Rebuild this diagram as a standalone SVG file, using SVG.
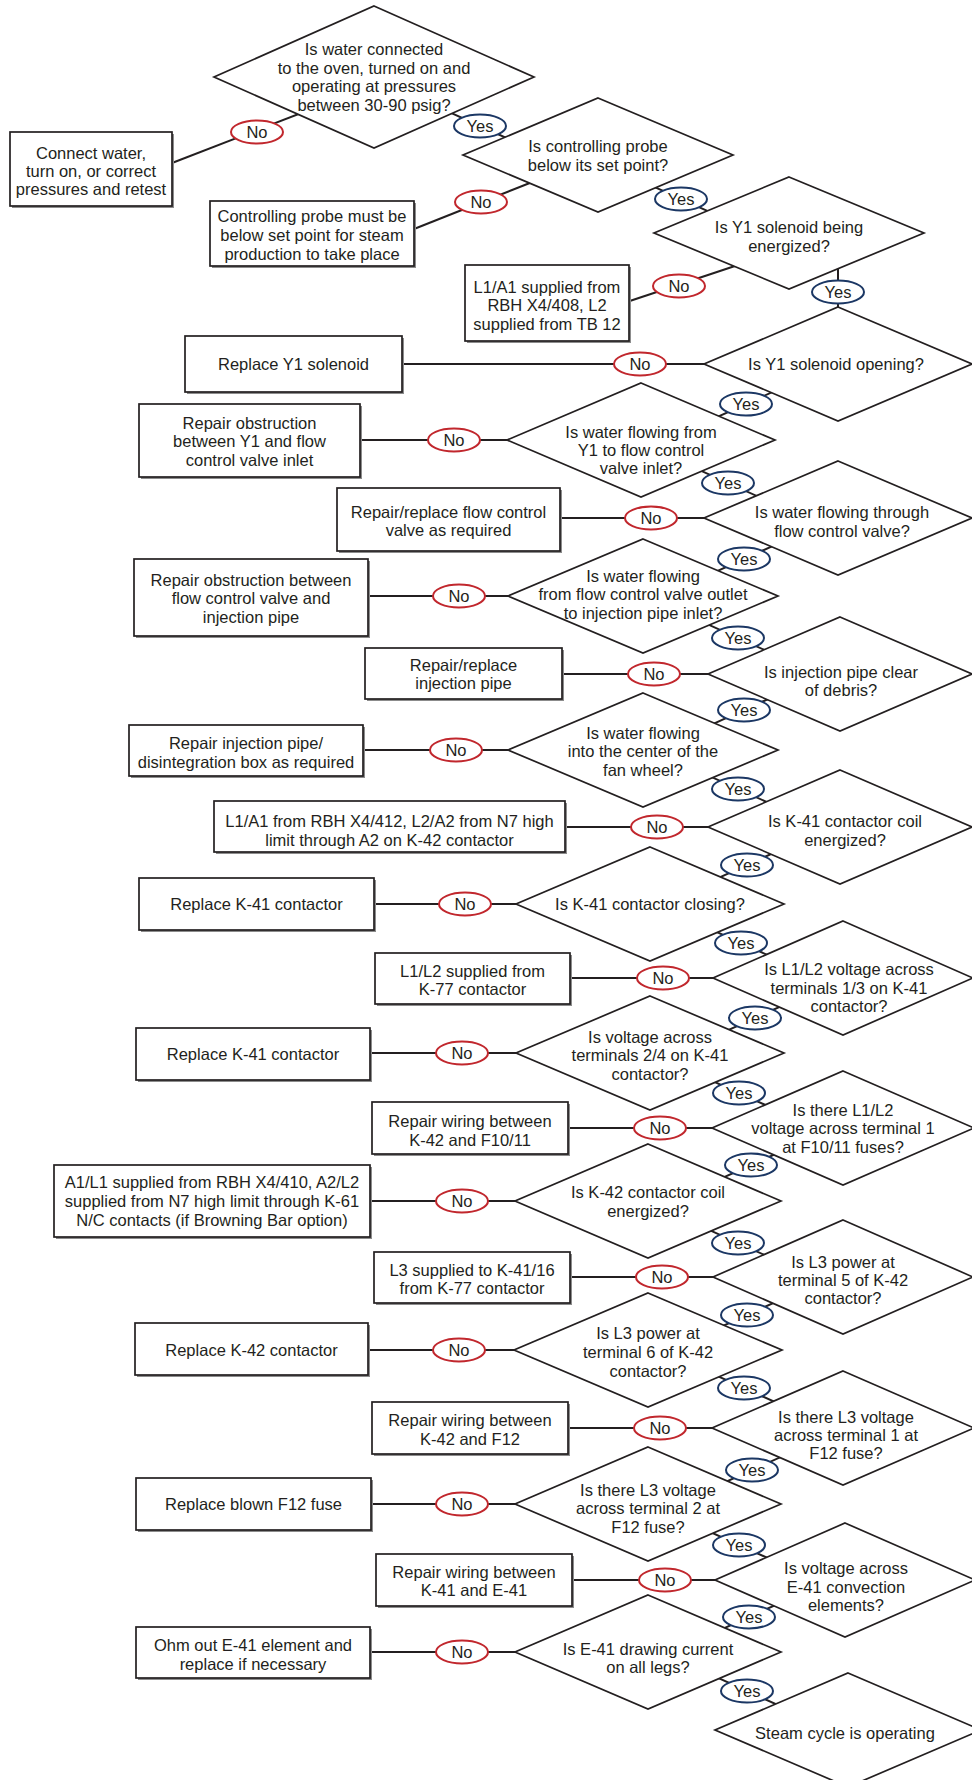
<svg xmlns="http://www.w3.org/2000/svg" width="972" height="1780" viewBox="0 0 972 1780">
<style>
.bg{fill:#ffffff}
.sh{fill:#8c8c8c}
.box{fill:#ffffff;stroke:#231f20;stroke-width:1.7}
.dia{fill:#ffffff;stroke:#231f20;stroke-width:1.7}
.ln{stroke:#231f20;stroke-width:2;fill:none}
.t{font-family:"Liberation Sans",Arial,sans-serif;font-size:16.5px;fill:#231f20;text-anchor:middle}
.no{fill:#ffffff;stroke:#c1272d;stroke-width:2}
.yes{fill:#ffffff;stroke:#1b3764;stroke-width:2}
</style>
<rect class="bg" x="0" y="0" width="972" height="1780"/>

<g id="connectors">
<line class="ln" x1="320" y1="105.7" x2="172" y2="163"/>
<line class="ln" x1="550" y1="175" x2="414" y2="229"/>
<line class="ln" x1="750" y1="261" x2="629" y2="301.3"/>
<line class="ln" x1="402" y1="364" x2="730" y2="364"/>
<line class="ln" x1="360" y1="440" x2="530" y2="440"/>
<line class="ln" x1="560" y1="518" x2="730" y2="518"/>
<line class="ln" x1="368" y1="596" x2="530" y2="596"/>
<line class="ln" x1="562" y1="674" x2="730" y2="674"/>
<line class="ln" x1="363" y1="750" x2="530" y2="750"/>
<line class="ln" x1="565" y1="827" x2="730" y2="827"/>
<line class="ln" x1="374" y1="904" x2="540" y2="904"/>
<line class="ln" x1="570" y1="978" x2="735" y2="978"/>
<line class="ln" x1="370" y1="1053" x2="540" y2="1053"/>
<line class="ln" x1="568" y1="1128" x2="735" y2="1128"/>
<line class="ln" x1="370" y1="1201" x2="540" y2="1201"/>
<line class="ln" x1="570" y1="1277" x2="735" y2="1277"/>
<line class="ln" x1="368" y1="1350" x2="540" y2="1350"/>
<line class="ln" x1="568" y1="1428" x2="735" y2="1428"/>
<line class="ln" x1="371" y1="1504" x2="540" y2="1504"/>
<line class="ln" x1="572" y1="1580" x2="735" y2="1580"/>
<line class="ln" x1="370" y1="1652" x2="540" y2="1652"/>

<line class="ln" x1="430" y1="103.4" x2="530" y2="148.6"/>
<line class="ln" x1="631" y1="176.4" x2="731" y2="221.6"/>
<line class="ln" x1="838" y1="255" x2="838" y2="330"/>
<line class="ln" x1="796" y1="381.4" x2="696" y2="426.6"/>
<line class="ln" x1="678" y1="460.4" x2="778" y2="505.6"/>
<line class="ln" x1="794" y1="536.4" x2="694" y2="581.6"/>
<line class="ln" x1="688" y1="615.4" x2="788" y2="660.6"/>
<line class="ln" x1="794" y1="687.4" x2="694" y2="732.6"/>
<line class="ln" x1="688" y1="766.4" x2="788" y2="811.6"/>
<line class="ln" x1="797" y1="842.4" x2="697" y2="887.6"/>
<line class="ln" x1="691" y1="920.4" x2="791" y2="965.6"/>
<line class="ln" x1="805" y1="995.4" x2="705" y2="1040.6"/>
<line class="ln" x1="689" y1="1070.4" x2="789" y2="1115.6"/>
<line class="ln" x1="801" y1="1142.4" x2="701" y2="1187.6"/>
<line class="ln" x1="688" y1="1220.4" x2="788" y2="1265.6"/>
<line class="ln" x1="797" y1="1292.4" x2="697" y2="1337.6"/>
<line class="ln" x1="694" y1="1365.4" x2="794" y2="1410.6"/>
<line class="ln" x1="802" y1="1447.4" x2="702" y2="1492.6"/>
<line class="ln" x1="689" y1="1522.4" x2="789" y2="1567.6"/>
<line class="ln" x1="799" y1="1594.4" x2="699" y2="1639.6"/>
<line class="ln" x1="697" y1="1668.4" x2="797" y2="1713.6"/>
</g>

<g id="d1"><polygon class="dia" points="374,6 534,77 374,148 214,77"/>
<text class="t" x="374" y="55">Is water connected</text><text class="t" x="374" y="73.5">to the oven, turned on and</text><text class="t" x="374" y="92">operating at pressures</text><text class="t" x="374" y="110.5">between 30-90 psig?</text></g>
<g id="b1"><rect class="sh" x="12" y="134" width="162" height="74"/><rect class="box" x="10" y="132" width="162" height="74"/>
<text class="t" x="91" y="159">Connect water,</text><text class="t" x="91" y="177">turn on, or correct</text><text class="t" x="91" y="195">pressures and retest</text></g>

<g id="d2"><polygon class="dia" points="598,98 733,155 598,212 463,155"/>
<text class="t" x="598" y="152">Is controlling probe</text><text class="t" x="598" y="171">below its set point?</text></g>
<g id="b2"><rect class="sh" x="212" y="203" width="204" height="65"/><rect class="box" x="210" y="201" width="204" height="65"/>
<text class="t" x="312" y="222">Controlling probe must be</text><text class="t" x="312" y="241">below set point for steam</text><text class="t" x="312" y="260">production to take place</text></g>

<g id="d3"><polygon class="dia" points="789,177 924,233 789,289 654,233"/>
<text class="t" x="789" y="233">Is Y1 solenoid being</text><text class="t" x="789" y="252">energized?</text></g>
<g id="b3"><rect class="sh" x="467" y="267" width="164" height="76"/><rect class="box" x="465" y="265" width="164" height="76"/>
<text class="t" x="547" y="293">L1/A1 supplied from</text><text class="t" x="547" y="311">RBH X4/408, L2</text><text class="t" x="547" y="330">supplied from TB 12</text></g>

<g id="d4"><polygon class="dia" points="838,307 972,364 838,421 704,364"/>
<text class="t" x="836" y="370">Is Y1 solenoid opening?</text></g>
<g id="b4"><rect class="sh" x="187" y="338" width="217" height="56"/><rect class="box" x="185" y="336" width="217" height="56"/>
<text class="t" x="293.5" y="370">Replace Y1 solenoid</text></g>

<g id="d5"><polygon class="dia" points="641,383 775,440 641,497 507,440"/>
<text class="t" x="641" y="438">Is water flowing from</text><text class="t" x="641" y="456">Y1 to flow control</text><text class="t" x="641" y="474">valve inlet?</text></g>
<g id="b5"><rect class="sh" x="141" y="406" width="221" height="73"/><rect class="box" x="139" y="404" width="221" height="73"/>
<text class="t" x="249.5" y="429">Repair obstruction</text><text class="t" x="249.5" y="447">between Y1 and flow</text><text class="t" x="249.5" y="466">control valve inlet</text></g>

<g id="d6"><polygon class="dia" points="838,461 972,518 838,575 704,518"/>
<text class="t" x="842" y="518">Is water flowing through</text><text class="t" x="842" y="537">flow control valve?</text></g>
<g id="b6"><rect class="sh" x="339" y="490" width="223" height="63"/><rect class="box" x="337" y="488" width="223" height="63"/>
<text class="t" x="448.5" y="518">Repair/replace flow control</text><text class="t" x="448.5" y="536">valve as required</text></g>

<g id="d7"><polygon class="dia" points="643,539 778,596 643,653 508,596"/>
<text class="t" x="643" y="582">Is water flowing</text><text class="t" x="643" y="600">from flow control valve outlet</text><text class="t" x="643" y="619">to injection pipe inlet?</text></g>
<g id="b7"><rect class="sh" x="136" y="561" width="234" height="77"/><rect class="box" x="134" y="559" width="234" height="77"/>
<text class="t" x="251" y="586">Repair obstruction between</text><text class="t" x="251" y="604">flow control valve and</text><text class="t" x="251" y="623">injection pipe</text></g>

<g id="d8"><polygon class="dia" points="840,617 972,674 840,731 708,674"/>
<text class="t" x="841" y="678">Is injection pipe clear</text><text class="t" x="841" y="696">of debris?</text></g>
<g id="b8"><rect class="sh" x="367" y="650" width="197" height="51"/><rect class="box" x="365" y="648" width="197" height="51"/>
<text class="t" x="463.5" y="671">Repair/replace</text><text class="t" x="463.5" y="689">injection pipe</text></g>

<g id="d9"><polygon class="dia" points="643,693 778,750 643,807 508,750"/>
<text class="t" x="643" y="739">Is water flowing</text><text class="t" x="643" y="757">into the center of the</text><text class="t" x="643" y="776">fan wheel?</text></g>
<g id="b9"><rect class="sh" x="131" y="727" width="234" height="51"/><rect class="box" x="129" y="725" width="234" height="51"/>
<text class="t" x="246" y="749">Repair injection pipe/</text><text class="t" x="246" y="768">disintegration box as required</text></g>

<g id="d10"><polygon class="dia" points="840,770 972,827 840,884 708,827"/>
<text class="t" x="845" y="827">Is K-41 contactor coil</text><text class="t" x="845" y="846">energized?</text></g>
<g id="b10"><rect class="sh" x="216" y="803" width="351" height="51"/><rect class="box" x="214" y="801" width="351" height="51"/>
<text class="t" x="389.5" y="827">L1/A1 from RBH X4/412, L2/A2 from N7 high</text><text class="t" x="389.5" y="846">limit through A2 on K-42 contactor</text></g>

<g id="d11"><polygon class="dia" points="650,847 784,904 650,961 516,904"/>
<text class="t" x="650" y="910">Is K-41 contactor closing?</text></g>
<g id="b11"><rect class="sh" x="141" y="880" width="235" height="52"/><rect class="box" x="139" y="878" width="235" height="52"/>
<text class="t" x="256.5" y="910">Replace K-41 contactor</text></g>

<g id="d12"><polygon class="dia" points="843,921 973,978 843,1035 713,978"/>
<text class="t" x="849" y="975">Is L1/L2 voltage across</text><text class="t" x="849" y="994">terminals 1/3 on K-41</text><text class="t" x="849" y="1012">contactor?</text></g>
<g id="b12"><rect class="sh" x="377" y="955" width="195" height="51"/><rect class="box" x="375" y="953" width="195" height="51"/>
<text class="t" x="472.5" y="977">L1/L2 supplied from</text><text class="t" x="472.5" y="995">K-77 contactor</text></g>

<g id="d13"><polygon class="dia" points="650,996 784,1053 650,1110 516,1053"/>
<text class="t" x="650" y="1043">Is voltage across</text><text class="t" x="650" y="1061">terminals 2/4 on K-41</text><text class="t" x="650" y="1080">contactor?</text></g>
<g id="b13"><rect class="sh" x="138" y="1030" width="234" height="52"/><rect class="box" x="136" y="1028" width="234" height="52"/>
<text class="t" x="253" y="1060">Replace K-41 contactor</text></g>

<g id="d14"><polygon class="dia" points="843,1071 974,1128 843,1185 712,1128"/>
<text class="t" x="843" y="1116">Is there L1/L2</text><text class="t" x="843" y="1134">voltage across terminal 1</text><text class="t" x="843" y="1153">at F10/11 fuses?</text></g>
<g id="b14"><rect class="sh" x="374" y="1104" width="196" height="52"/><rect class="box" x="372" y="1102" width="196" height="52"/>
<text class="t" x="470" y="1127">Repair wiring between</text><text class="t" x="470" y="1146">K-42 and F10/11</text></g>

<g id="d15"><polygon class="dia" points="648,1144 781,1201 648,1258 515,1201"/>
<text class="t" x="648" y="1198">Is K-42 contactor coil</text><text class="t" x="648" y="1217">energized?</text></g>
<g id="b15"><rect class="sh" x="56" y="1167" width="316" height="72"/><rect class="box" x="54" y="1165" width="316" height="72"/>
<text class="t" x="212" y="1188">A1/L1 supplied from RBH X4/410, A2/L2</text><text class="t" x="212" y="1207">supplied from N7 high limit through K-61</text><text class="t" x="212" y="1226">N/C contacts (if Browning Bar option)</text></g>

<g id="d16"><polygon class="dia" points="843,1220 973,1277 843,1334 713,1277"/>
<text class="t" x="843" y="1268">Is L3 power at</text><text class="t" x="843" y="1286">terminal 5 of K-42</text><text class="t" x="843" y="1304">contactor?</text></g>
<g id="b16"><rect class="sh" x="376" y="1254" width="196" height="51"/><rect class="box" x="374" y="1252" width="196" height="51"/>
<text class="t" x="472" y="1276">L3 supplied to K-41/16</text><text class="t" x="472" y="1294">from K-77 contactor</text></g>

<g id="d17"><polygon class="dia" points="648,1293 782,1350 648,1407 514,1350"/>
<text class="t" x="648" y="1339">Is L3 power at</text><text class="t" x="648" y="1358">terminal 6 of K-42</text><text class="t" x="648" y="1377">contactor?</text></g>
<g id="b17"><rect class="sh" x="137" y="1325" width="233" height="52"/><rect class="box" x="135" y="1323" width="233" height="52"/>
<text class="t" x="251.5" y="1356">Replace K-42 contactor</text></g>

<g id="d18"><polygon class="dia" points="843,1371 974,1428 843,1485 712,1428"/>
<text class="t" x="846" y="1423">Is there L3 voltage</text><text class="t" x="846" y="1441">across terminal 1 at</text><text class="t" x="846" y="1459">F12 fuse?</text></g>
<g id="b18"><rect class="sh" x="374" y="1404" width="196" height="52"/><rect class="box" x="372" y="1402" width="196" height="52"/>
<text class="t" x="470" y="1426">Repair wiring between</text><text class="t" x="470" y="1445">K-42 and F12</text></g>

<g id="d19"><polygon class="dia" points="648,1447 781,1504 648,1561 515,1504"/>
<text class="t" x="648" y="1496">Is there L3 voltage</text><text class="t" x="648" y="1514">across terminal 2 at</text><text class="t" x="648" y="1533">F12 fuse?</text></g>
<g id="b19"><rect class="sh" x="138" y="1480" width="235" height="52"/><rect class="box" x="136" y="1478" width="235" height="52"/>
<text class="t" x="253.5" y="1510">Replace blown F12 fuse</text></g>

<g id="d20"><polygon class="dia" points="845,1523 975,1580 845,1637 715,1580"/>
<text class="t" x="846" y="1574">Is voltage across</text><text class="t" x="846" y="1593">E-41 convection</text><text class="t" x="846" y="1611">elements?</text></g>
<g id="b20"><rect class="sh" x="378" y="1556" width="196" height="52"/><rect class="box" x="376" y="1554" width="196" height="52"/>
<text class="t" x="474" y="1578">Repair wiring between</text><text class="t" x="474" y="1596">K-41 and E-41</text></g>

<g id="d21"><polygon class="dia" points="648,1595 781,1652 648,1709 515,1652"/>
<text class="t" x="648" y="1655">Is E-41 drawing current</text><text class="t" x="648" y="1673">on all legs?</text></g>
<g id="b21"><rect class="sh" x="138" y="1629" width="234" height="51"/><rect class="box" x="136" y="1627" width="234" height="51"/>
<text class="t" x="253" y="1651">Ohm out E-41 element and</text><text class="t" x="253" y="1670">replace if necessary</text></g>

<g id="d22"><polygon class="dia" points="848,1673 981,1730 848,1787 715,1730"/>
<text class="t" x="845" y="1739">Steam cycle is operating</text></g>

<g id="connector-labels">
<ellipse class="no" cx="257" cy="132" rx="26" ry="11.5"/><text class="t" x="257" y="138">No</text>
<ellipse class="no" cx="481" cy="202" rx="26" ry="11.5"/><text class="t" x="481" y="208">No</text>
<ellipse class="no" cx="679" cy="286" rx="26" ry="11.5"/><text class="t" x="679" y="292">No</text>
<ellipse class="no" cx="640" cy="364" rx="26" ry="11.5"/><text class="t" x="640" y="370">No</text>
<ellipse class="no" cx="454" cy="440" rx="26" ry="11.5"/><text class="t" x="454" y="446">No</text>
<ellipse class="no" cx="651" cy="518" rx="26" ry="11.5"/><text class="t" x="651" y="524">No</text>
<ellipse class="no" cx="459" cy="596" rx="26" ry="11.5"/><text class="t" x="459" y="602">No</text>
<ellipse class="no" cx="654" cy="674" rx="26" ry="11.5"/><text class="t" x="654" y="680">No</text>
<ellipse class="no" cx="456" cy="750" rx="26" ry="11.5"/><text class="t" x="456" y="756">No</text>
<ellipse class="no" cx="657" cy="827" rx="26" ry="11.5"/><text class="t" x="657" y="833">No</text>
<ellipse class="no" cx="465" cy="904" rx="26" ry="11.5"/><text class="t" x="465" y="910">No</text>
<ellipse class="no" cx="663" cy="978" rx="26" ry="11.5"/><text class="t" x="663" y="984">No</text>
<ellipse class="no" cx="462" cy="1053" rx="26" ry="11.5"/><text class="t" x="462" y="1059">No</text>
<ellipse class="no" cx="660" cy="1128" rx="26" ry="11.5"/><text class="t" x="660" y="1134">No</text>
<ellipse class="no" cx="462" cy="1201" rx="26" ry="11.5"/><text class="t" x="462" y="1207">No</text>
<ellipse class="no" cx="662" cy="1277" rx="26" ry="11.5"/><text class="t" x="662" y="1283">No</text>
<ellipse class="no" cx="459" cy="1350" rx="26" ry="11.5"/><text class="t" x="459" y="1356">No</text>
<ellipse class="no" cx="660" cy="1428" rx="26" ry="11.5"/><text class="t" x="660" y="1434">No</text>
<ellipse class="no" cx="462" cy="1504" rx="26" ry="11.5"/><text class="t" x="462" y="1510">No</text>
<ellipse class="no" cx="665" cy="1580" rx="26" ry="11.5"/><text class="t" x="665" y="1586">No</text>
<ellipse class="no" cx="462" cy="1652" rx="26" ry="11.5"/><text class="t" x="462" y="1658">No</text>

<ellipse class="yes" cx="480" cy="126" rx="26" ry="11.5"/><text class="t" x="480" y="132">Yes</text>
<ellipse class="yes" cx="681" cy="199" rx="26" ry="11.5"/><text class="t" x="681" y="205">Yes</text>
<ellipse class="yes" cx="838" cy="292" rx="26" ry="11.5"/><text class="t" x="838" y="298">Yes</text>
<ellipse class="yes" cx="746" cy="404" rx="26" ry="11.5"/><text class="t" x="746" y="410">Yes</text>
<ellipse class="yes" cx="728" cy="483" rx="26" ry="11.5"/><text class="t" x="728" y="489">Yes</text>
<ellipse class="yes" cx="744" cy="559" rx="26" ry="11.5"/><text class="t" x="744" y="565">Yes</text>
<ellipse class="yes" cx="738" cy="638" rx="26" ry="11.5"/><text class="t" x="738" y="644">Yes</text>
<ellipse class="yes" cx="744" cy="710" rx="26" ry="11.5"/><text class="t" x="744" y="716">Yes</text>
<ellipse class="yes" cx="738" cy="789" rx="26" ry="11.5"/><text class="t" x="738" y="795">Yes</text>
<ellipse class="yes" cx="747" cy="865" rx="26" ry="11.5"/><text class="t" x="747" y="871">Yes</text>
<ellipse class="yes" cx="741" cy="943" rx="26" ry="11.5"/><text class="t" x="741" y="949">Yes</text>
<ellipse class="yes" cx="755" cy="1018" rx="26" ry="11.5"/><text class="t" x="755" y="1024">Yes</text>
<ellipse class="yes" cx="739" cy="1093" rx="26" ry="11.5"/><text class="t" x="739" y="1099">Yes</text>
<ellipse class="yes" cx="751" cy="1165" rx="26" ry="11.5"/><text class="t" x="751" y="1171">Yes</text>
<ellipse class="yes" cx="738" cy="1243" rx="26" ry="11.5"/><text class="t" x="738" y="1249">Yes</text>
<ellipse class="yes" cx="747" cy="1315" rx="26" ry="11.5"/><text class="t" x="747" y="1321">Yes</text>
<ellipse class="yes" cx="744" cy="1388" rx="26" ry="11.5"/><text class="t" x="744" y="1394">Yes</text>
<ellipse class="yes" cx="752" cy="1470" rx="26" ry="11.5"/><text class="t" x="752" y="1476">Yes</text>
<ellipse class="yes" cx="739" cy="1545" rx="26" ry="11.5"/><text class="t" x="739" y="1551">Yes</text>
<ellipse class="yes" cx="749" cy="1617" rx="26" ry="11.5"/><text class="t" x="749" y="1623">Yes</text>
<ellipse class="yes" cx="747" cy="1691" rx="26" ry="11.5"/><text class="t" x="747" y="1697">Yes</text>
</g>
</svg>
